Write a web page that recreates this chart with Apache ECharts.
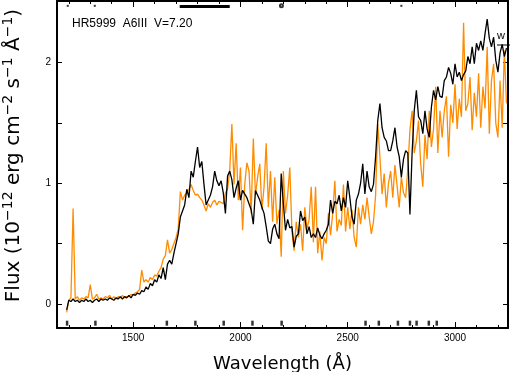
<!DOCTYPE html>
<html>
<head>
<meta charset="utf-8">
<script src="https://cdn.jsdelivr.net/npm/echarts@6.0.0/dist/echarts.min.js"></script>
<style>
  html, body { margin: 0; padding: 0; background: #fff; }
  #chart { width: 510px; height: 372px; }
</style>
</head>
<body>
<div id="chart"></div>
<script>
// wavelength grid (Angstrom), 10 per row
var wave = [
  1190, 1200, 1210, 1220, 1230, 1240, 1250, 1260, 1270, 1280,
  1290, 1300, 1310, 1320, 1330, 1340, 1350, 1360, 1370, 1380,
  1390, 1400, 1410, 1420, 1430, 1440, 1450, 1460, 1470, 1480,
  1490, 1500, 1510, 1520, 1530, 1540, 1550, 1560, 1570, 1580,
  1590, 1600, 1610, 1620, 1630, 1640, 1650, 1660, 1670, 1680,
  1690, 1700, 1710, 1720, 1730, 1740, 1750, 1760, 1770, 1780,
  1790, 1800, 1810, 1820, 1830, 1840, 1850, 1860, 1870, 1880,
  1890, 1900, 1910, 1920, 1930, 1940, 1950, 1960, 1970, 1980,
  1990, 2000, 2010, 2020, 2030, 2040, 2050, 2060, 2070, 2080,
  2090, 2100, 2110, 2120, 2130, 2140, 2150, 2160, 2170, 2180,
  2190, 2200, 2210, 2220, 2230, 2240, 2250, 2260, 2270, 2280,
  2290, 2300, 2310, 2320, 2330, 2340, 2350, 2360, 2370, 2380,
  2390, 2400, 2410, 2420, 2430, 2440, 2450, 2460, 2470, 2480,
  2490, 2500, 2510, 2520, 2530, 2540, 2550, 2560, 2570, 2580,
  2590, 2600, 2610, 2620, 2630, 2640, 2650, 2660, 2670, 2680,
  2690, 2700, 2710, 2720, 2730, 2740, 2750, 2760, 2770, 2780,
  2790, 2800, 2810, 2820, 2830, 2840, 2850, 2860, 2870, 2880,
  2890, 2900, 2910, 2920, 2930, 2940, 2950, 2960, 2970, 2980,
  2990, 3000, 3010, 3020, 3030, 3040, 3050, 3060, 3070, 3080,
  3090, 3100, 3110, 3120, 3130, 3140, 3150, 3160, 3170, 3180,
  3190, 3200, 3210, 3220, 3230, 3240
];

// black spectrum (10^-12 erg cm^-2 s^-1 A^-1)
var fluxBlack = [
  -0.05, 0.03, 0.02, 0.04, 0.02, 0.03, 0.01, 0.03, 0.02, 0.04,
  0.02, 0.03, 0.01, 0.03, 0.04, 0.02, 0.04, 0.03, 0.04, 0.03,
  0.05, 0.04, 0.03, 0.05, 0.04, 0.06, 0.04, 0.06, 0.05, 0.07,
  0.05, 0.08, 0.07, 0.09, 0.08, 0.11, 0.10, 0.14, 0.12, 0.17,
  0.15, 0.20, 0.18, 0.24, 0.21, 0.30, 0.20, 0.33, 0.36, 0.33,
  0.42, 0.50, 0.58, 0.72, 0.77, 0.82, 0.95, 0.88, 1.10, 1.05,
  1.18, 1.30, 1.13, 1.18, 0.99, 0.82, 0.86, 0.90, 0.97, 1.10,
  1.02, 0.98, 1.02, 0.92, 0.75, 1.06, 1.10, 1.03, 0.88, 0.96,
  1.02, 0.86, 0.94, 0.91, 0.88, 0.83, 0.78, 0.66, 0.94, 0.90,
  0.86, 0.80, 0.75, 0.64, 0.52, 0.50, 0.62, 0.66, 0.58, 0.54,
  1.08, 0.83, 0.61, 0.70, 0.63, 0.64, 0.47, 0.56, 0.58, 0.77,
  0.69, 0.72, 0.58, 0.64, 0.55, 0.58, 0.55, 0.63, 0.57, 0.54,
  0.58, 0.61, 0.66, 0.86, 0.75, 0.85, 0.83, 0.90, 0.77, 0.88,
  0.80, 1.02, 0.88, 0.72, 0.66, 0.86, 0.91, 1.00, 1.16, 0.91,
  1.10, 0.97, 0.93, 0.99, 1.22, 1.52, 1.66, 1.46, 1.38, 1.35,
  1.27, 1.27, 1.35, 1.46, 1.30, 1.22, 1.05, 1.20, 1.27, 1.25,
  0.74, 1.25, 1.60, 1.77, 1.55, 1.52, 1.41, 1.60, 1.45, 1.38,
  1.63, 1.77, 1.69, 1.80, 1.72, 1.71, 1.85, 1.88, 1.96, 1.91,
  1.82, 1.99, 1.88, 1.92, 1.85, 1.90, 1.93, 2.05, 1.99, 2.13,
  1.99, 2.16, 2.10, 2.18, 2.10, 2.24, 2.36, 2.20, 2.13, 2.21,
  2.02, 1.92, 2.08, 2.15, 2.05, 2.12
];

// orange spectrum
var fluxOrange = [
  -0.07, 0.03, 0.05, 0.79, 0.04, 0.06, 0.03, 0.05, 0.04, 0.06,
  0.05, 0.16, 0.04, 0.05, 0.08, 0.04, 0.05, 0.04, 0.06, 0.05,
  0.07, 0.04, 0.06, 0.04, 0.06, 0.05, 0.07, 0.05, 0.06, 0.06,
  0.08, 0.07, 0.09, 0.10, 0.12, 0.28, 0.18, 0.20, 0.18, 0.22,
  0.20, 0.24, 0.23, 0.27, 0.30, 0.37, 0.40, 0.53, 0.42, 0.45,
  0.50, 0.55, 0.62, 0.93, 0.86, 0.90, 0.92, 0.95, 0.99, 0.94,
  0.90, 0.91, 0.88, 0.86, 0.82, 0.77, 0.83, 0.80, 0.84, 0.86,
  0.82, 0.85, 0.84, 0.83, 0.92, 0.95, 1.10, 1.49, 0.99, 1.33,
  0.86, 1.13, 0.61, 0.99, 1.17, 1.10, 0.75, 1.37, 0.90, 1.05,
  1.16, 0.78, 0.97, 1.33, 0.80, 1.10, 0.68, 1.05, 0.66, 0.78,
  0.39, 1.10, 0.75, 0.90, 1.13, 0.60, 0.44, 0.68, 0.55, 0.66,
  0.44, 0.80, 0.62, 0.70, 0.97, 0.51, 0.97, 0.42, 0.60, 0.36,
  0.55, 0.50, 0.75, 0.57, 0.75, 1.02, 0.60, 0.70, 0.65, 0.99,
  0.60, 0.80, 0.62, 0.78, 0.55, 0.47, 0.80, 0.66, 0.82, 0.70,
  0.88, 0.72, 0.58, 0.68, 0.90, 1.49, 1.22, 0.91, 1.08, 0.80,
  1.00, 1.10, 0.88, 1.15, 0.98, 0.80, 1.05, 0.92, 0.88, 1.12,
  1.44, 1.60, 1.25, 1.35, 1.52, 1.16, 0.97, 1.40, 1.20, 1.60,
  1.30, 1.45, 1.80, 1.25, 1.60, 1.38, 1.60, 1.72, 1.22, 1.65,
  1.50, 1.82, 1.45, 1.70, 1.55, 2.33, 1.60, 1.66, 1.88, 1.44,
  1.75, 1.55, 1.91, 1.46, 1.80, 1.62, 2.13, 1.41, 1.85, 1.99,
  1.50, 1.38, 1.85, 1.46, 2.10, 1.66
];

// axis ticks / labels
var xMajor = [1500, 2000, 2500, 3000];
var xMinor = [1200, 1300, 1400, 1600, 1700, 1800, 1900, 2100, 2200, 2300, 2400,
              2600, 2700, 2800, 2900, 3100, 3200];
var yTicks = [0, 0.5, 1, 1.5, 2];
var yLabels = [0, 1, 2];

// quality flags along bottom and top, thick bar at top
var flagsBottom = [1192, 1324, 1657, 1790, 1922, 2056, 2192, 2583, 2645, 2734, 2790, 2821, 2878, 2915];
var flagsTop = [1195, 1321, 2750];
var flagsTopRing = [2191];
var topBar = [1717, 1950];

var X_MIN = 1145, X_MAX = 3247, Y_MIN = -0.2, Y_MAX = 2.51;
var FLAG_BOTTOM_Y = -0.16, FLAG_TOP_Y = 2.47, BAR_Y = 2.465;

function pairs(xs, ys) {
  return xs.map(function (x, i) { return [x, ys[i]]; });
}
function level(xs, y) {
  return xs.map(function (x) { return [x, y]; });
}
function plain(v) { return String(v); }

var FONT = 'Liberation Sans';
var chart = echarts.init(document.getElementById('chart'), null, { renderer: 'canvas' });

function xAx(pos, ticks, len, showLine, labels) {
  return {
    type: 'value', min: X_MIN, max: X_MAX, position: pos,
    axisLine: { show: showLine, onZero: false, lineStyle: { color: '#000', width: 2 } },
    axisTick: { show: true, inside: true, length: len, customValues: ticks, lineStyle: { color: '#000', width: 1 } },
    axisLabel: labels ? { show: true, customValues: xMajor, formatter: plain, color: '#000', fontSize: 10, fontFamily: FONT, margin: 5 } : { show: false },
    splitLine: { show: false }
  };
}

var option = {
  animation: false,
  backgroundColor: '#fff',
  grid: { left: 57, right: 2, top: 1, bottom: 44, containLabel: false, outerBoundsMode: 'none' },
  title: {
    text: 'HR5999  A6III  V=7.20',
    left: 67, top: 13,
    textStyle: { fontSize: 12, fontWeight: 'normal', color: '#000', fontFamily: FONT }
  },
  xAxis: [
    Object.assign(xAx('bottom', xMajor, 6, true, true), {
      name: 'Wavelength (Å)', nameLocation: 'middle', nameGap: 27,
      nameTextStyle: { fontSize: 18, color: '#000', fontFamily: 'DejaVu Sans', verticalAlign: 'top' }
    }),
    xAx('bottom', xMinor, 3, false, false),
    xAx('top', xMajor, 6, true, false),
    xAx('top', xMinor, 3, false, false)
  ],
  yAxis: [
    {
      type: 'value', min: Y_MIN, max: Y_MAX, position: 'left',
      axisLine: { show: true, onZero: false, lineStyle: { color: '#000', width: 2 } },
      axisTick: { show: true, inside: true, length: 5, customValues: yTicks, lineStyle: { color: '#000' } },
      axisLabel: { customValues: yLabels, formatter: plain, color: '#000', fontSize: 10, fontFamily: FONT, margin: 6 },
      splitLine: { show: false },
      name: '{a|Flux (10}{s|−12}{a| erg cm}{s|−2}{a| s}{s|−1}{a| Å}{s|−1}{a|)}',
      nameLocation: 'middle', nameRotate: 90, nameGap: 33,
      nameTextStyle: {
        color: '#000',
        padding: [0, 0, 0, 18],
        rich: {
          a: { fontSize: 20, fontFamily: 'DejaVu Sans', color: '#000', lineHeight: 23, verticalAlign: 'bottom' },
          s: { fontSize: 14, fontFamily: 'DejaVu Sans', color: '#000', lineHeight: 23, verticalAlign: 'top' }
        }
      }
    },
    {
      type: 'value', min: Y_MIN, max: Y_MAX, position: 'right',
      axisLine: { show: true, onZero: false, lineStyle: { color: '#000', width: 2 } },
      axisTick: { show: true, inside: true, length: 5, customValues: yTicks, lineStyle: { color: '#000' } },
      axisLabel: { show: false },
      splitLine: { show: false }
    }
  ],
  graphic: [
    { type: 'text', left: 497, top: 30, style: { text: 'w', fontSize: 11, fontFamily: FONT, fill: '#000' } },
    { type: 'line', shape: { x1: 497, y1: 45, x2: 510, y2: 45 }, style: { stroke: '#000', lineWidth: 1 } }
  ],
  series: [
    {
      type: 'line', name: 'orange', data: pairs(wave, fluxOrange),
      symbol: 'none', lineStyle: { color: '#ff8c00', width: 1.3 }, z: 2
    },
    {
      type: 'line', name: 'black', data: pairs(wave, fluxBlack),
      symbol: 'none', lineStyle: { color: '#000', width: 1.3 }, z: 3
    },
    {
      type: 'scatter', data: level(flagsBottom, FLAG_BOTTOM_Y),
      symbol: 'rect', symbolSize: [2.5, 5], itemStyle: { color: '#000' }, z: 4
    },
    {
      type: 'scatter', data: level(flagsTop, FLAG_TOP_Y),
      symbol: 'rect', symbolSize: [2, 2], itemStyle: { color: '#000' }, z: 4
    },
    {
      type: 'scatter', data: level(flagsTopRing, FLAG_TOP_Y),
      symbol: 'emptyCircle', symbolSize: 3, itemStyle: { color: '#000', borderColor: '#000', borderWidth: 1 }, z: 4
    },
    {
      type: 'line', data: level(topBar, BAR_Y),
      symbol: 'none', lineStyle: { color: '#000', width: 3 }, z: 4
    }
  ]
};

chart.setOption(option);
</script>
</body>
</html>
